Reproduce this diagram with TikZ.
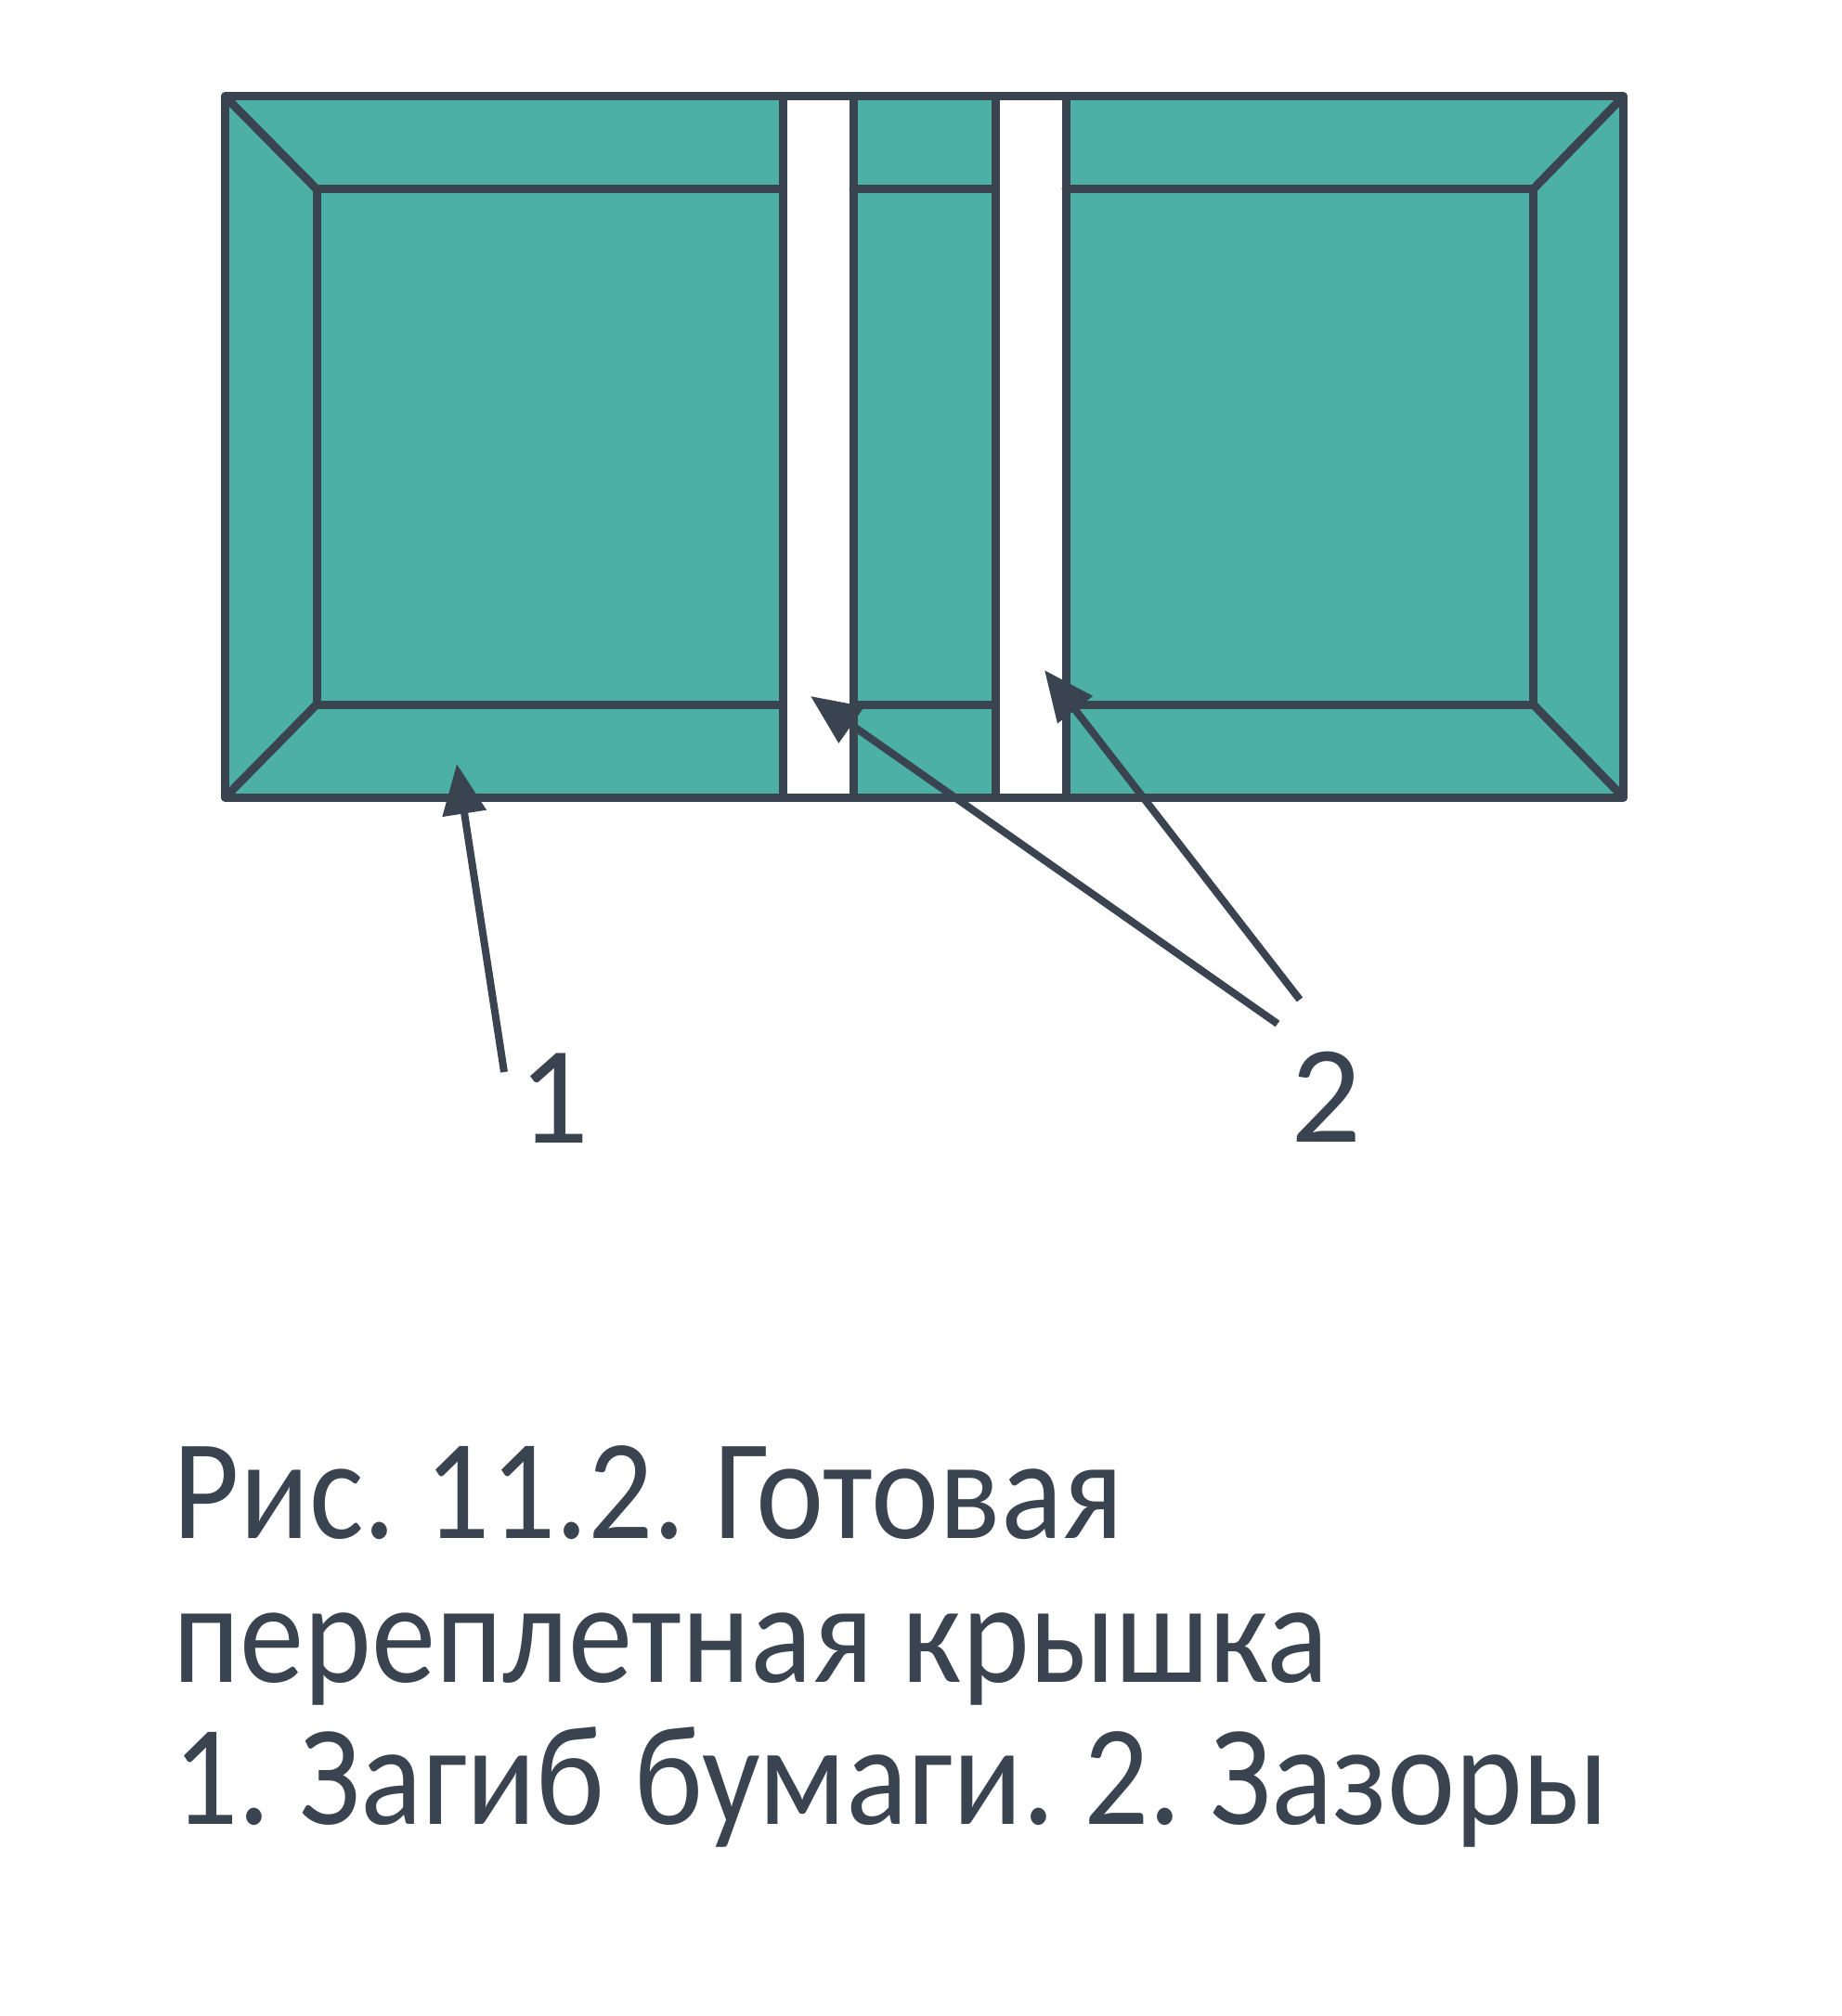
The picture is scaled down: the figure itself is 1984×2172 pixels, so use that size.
\documentclass[tikz,border=0pt]{standalone}
\usepackage{fontspec}
\setmainfont{Carlito}
\newfontfamily\capfont[FakeStretch=0.9]{Carlito}
\usetikzlibrary{arrows.meta}

\definecolor{ink}{HTML}{3A4350}
\definecolor{board}{HTML}{4DB0A6}

\tikzset{
  edge/.style={draw=ink,line width=4.5pt,line join=round,line cap=round},
  pointer/.style={draw=ink,line width=4pt,-{Triangle[length=27pt,width=23pt]}},
  numlabel/.style={text=ink,inner sep=0pt,font=\fontsize{75}{75}\selectfont},
  captionline/.style={text=ink,inner sep=0pt,anchor=base west,font=\capfont\fontsize{77}{77}\selectfont}
}

\begin{document}
\frenchspacing
\begin{tikzpicture}[x=0.5pt,y=0.5pt,yscale=-1,xscale=1]
\path[use as bounding box] (0,0) rectangle (1984,2172);

%Shape: Rectangle [board]
\fill[board] (242.5,104) rectangle (1748.5,859);
%Shape: Rectangle [gaps]
\fill[white] (843,104) rectangle (919,859);
\fill[white] (1072,104) rectangle (1148,859);

%Straight Lines [gap edges]
\draw[edge] (843,104) -- (843,859);
\draw[edge] (919,104) -- (919,859);
\draw[edge] (1072,104) -- (1072,859);
\draw[edge] (1148,104) -- (1148,859);

%Straight Lines [left inner panel]
\draw[edge] (843,203.7) -- (341,203.7) -- (341,759) -- (843,759);
%Straight Lines [spine]
\draw[edge] (919,203.7) -- (1072,203.7);
\draw[edge] (919,759) -- (1072,759);
%Straight Lines [right inner panel]
\draw[edge] (1148,203.7) -- (1651.5,203.7) -- (1651.5,759) -- (1148,759);

%Straight Lines [corner folds]
\draw[edge] (242.5,104) -- (341,203.7);
\draw[edge] (242.5,859) -- (341,759);
\draw[edge] (1748.5,104) -- (1651.5,203.7);
\draw[edge] (1748.5,859) -- (1651.5,759);

%Shape: Rectangle [outline]
\draw[edge] (242.5,104) rectangle (1748.5,859);

% Text Node
\node[numlabel] (one) at (597,1183) {1};
% Text Node
\node[numlabel] (two) at (1428,1182) {2};

\coordinate (foldtip) at (492,823);
\coordinate (foldtail) at (543,1155);
\coordinate (gaptipa) at (873,750);
\coordinate (gaptaila) at (1376,1103);
\coordinate (gaptipb) at (1125,722);
\coordinate (gaptailb) at (1400,1077);

%Arrows
\draw[pointer] (foldtail) -- (foldtip);
\draw[pointer] (gaptaila) -- (gaptipa);
\draw[pointer] (gaptailb) -- (gaptipb);

% Text Node
\node[captionline] (capa) at (186,1657) {Рис. 11.2. Готовая};
% Text Node
\node[captionline] (capb) at (186,1812) {переплетная крышка};
% Text Node
\node[captionline] (capc) at (186,1965) {1. Загиб бумаги. 2. Зазоры};

\end{tikzpicture}
\end{document}
